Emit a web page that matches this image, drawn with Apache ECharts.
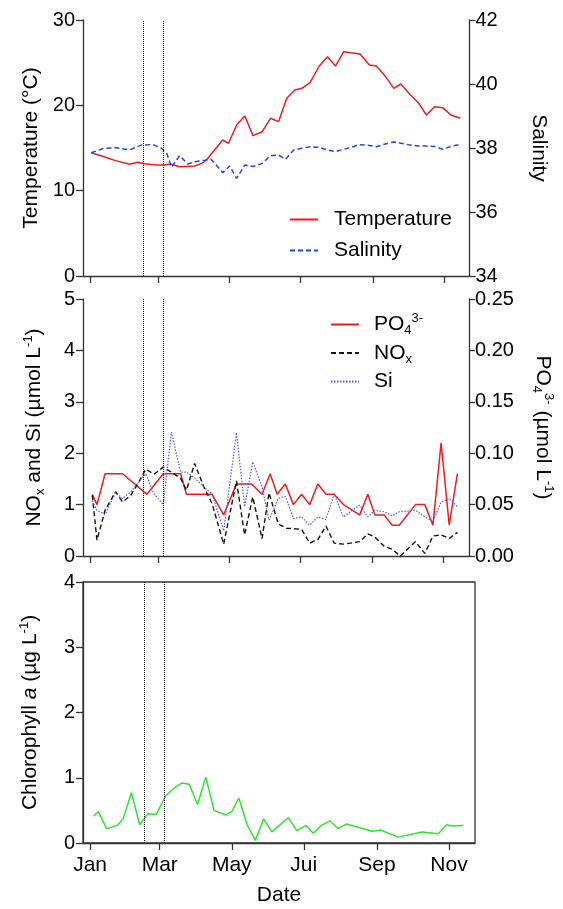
<!DOCTYPE html>
<html>
<head>
<meta charset="utf-8">
<script src="https://cdn.jsdelivr.net/npm/echarts@6/dist/echarts.min.js"></script>
<style>html,body{margin:0;padding:0;background:#fff;}#c{width:563px;height:909px;}</style>
</head>
<body>
<div id="c"></div>
<script>
// ---- data (x = day of year, Jan 1 = 0) ----
const monthDays = [0, 59, 120, 181, 243, 304];
const monthLabels = ['Jan', 'Mar', 'May', 'Jui', 'Sep', 'Nov'];
const periodDays = [46, 63];

const tempDays = [1, 12, 22, 34, 41, 47, 57, 64, 69, 77, 90, 96, 100, 107, 114, 119, 126, 133, 140, 148, 155, 162, 169, 176, 182, 189, 197, 204, 211, 218, 224, 232, 240, 246, 254, 261, 267, 274, 282, 289, 296, 303, 310, 318];
const temperature = [14.45, 13.98, 13.52, 13.09, 13.32, 13.16, 13.01, 13.01, 13.13, 12.81, 12.89, 13.2, 13.59, 14.77, 15.94, 15.55, 17.7, 18.75, 16.45, 16.91, 18.48, 18.09, 20.82, 21.8, 21.99, 22.66, 24.61, 25.7, 24.61, 26.29, 26.17, 26.02, 24.73, 24.61, 23.36, 21.99, 22.5, 21.41, 20.31, 18.87, 19.84, 19.73, 18.87, 18.48];

const salDays = [1, 12, 22, 34, 44, 54, 61, 66, 70, 77, 84, 90, 99, 104, 114, 120, 126, 133, 140, 148, 155, 162, 168, 175, 182, 189, 197, 204, 211, 218, 224, 231, 238, 246, 253, 261, 267, 274, 282, 289, 296, 303, 310, 318];
const salinity = [37.85, 37.99, 38.01, 37.94, 38.09, 38.11, 38.0, 37.83, 37.4, 37.76, 37.5, 37.57, 37.62, 37.65, 37.23, 37.44, 37.05, 37.47, 37.42, 37.52, 37.76, 37.78, 37.65, 37.94, 37.99, 38.04, 38.02, 37.94, 37.89, 37.96, 38.02, 38.1, 38.09, 38.04, 38.12, 38.19, 38.15, 38.1, 38.06, 38.06, 38.05, 37.96, 38.05, 38.11];

const po4Days = [2, 6, 13, 28, 49, 63, 78, 83, 105, 115, 126, 139, 148, 155, 161, 168, 175, 182, 189, 196, 203, 210, 218, 232, 239, 245, 253, 260, 266, 280, 288, 295, 302, 309, 316];
const po4 = [0.06, 0.05, 0.08, 0.08, 0.06, 0.08, 0.08, 0.06, 0.06, 0.04, 0.07, 0.07, 0.06, 0.08, 0.06, 0.07, 0.05, 0.06, 0.05, 0.07, 0.06, 0.06, 0.05, 0.04, 0.06, 0.04, 0.04, 0.03, 0.03, 0.05, 0.05, 0.03, 0.11, 0.03, 0.08];

const noxDays = [2, 6, 13, 22, 28, 35, 42, 48, 55, 63, 70, 78, 83, 90, 98, 105, 115, 126, 133, 140, 148, 154, 162, 169, 182, 189, 196, 203, 210, 218, 232, 239, 245, 253, 260, 267, 280, 288, 295, 302, 309, 316];
const nox = [1.18, 0.31, 0.89, 1.25, 1.05, 1.18, 1.44, 1.69, 1.59, 1.73, 1.63, 1.51, 1.28, 1.8, 1.34, 1.02, 0.23, 1.46, 0.41, 1.15, 0.34, 1.23, 0.62, 0.54, 0.52, 0.25, 0.32, 0.58, 0.25, 0.23, 0.28, 0.43, 0.37, 0.19, 0.13, 0.0, 0.28, 0.05, 0.39, 0.41, 0.34, 0.46];

const siDays = [2, 6, 13, 22, 28, 35, 48, 55, 63, 70, 78, 83, 90, 98, 105, 115, 126, 133, 140, 148, 154, 162, 168, 175, 182, 189, 196, 203, 210, 218, 232, 239, 245, 253, 260, 266, 280, 288, 295, 302, 309, 316];
const silicate = [1.07, 0.89, 0.81, 1.23, 1.12, 1.25, 1.6, 1.21, 1.0, 2.41, 1.63, 1.63, 1.52, 1.34, 1.21, 0.49, 2.4, 0.96, 1.83, 1.34, 0.7, 1.12, 1.16, 0.73, 0.76, 0.6, 0.76, 0.71, 1.21, 0.76, 0.99, 0.76, 0.89, 0.86, 0.78, 0.86, 0.89, 0.76, 0.67, 1.05, 1.12, 0.96];

const chlDays = [3, 7, 14, 23, 28, 35, 42, 49, 56, 64, 71, 78, 84, 91, 98, 105, 115, 120, 126, 133, 140, 147, 154, 168, 175, 183, 189, 196, 203, 210, 217, 239, 246, 261, 281, 295, 302, 307, 316];
const chlorophyll = [0.41, 0.48, 0.22, 0.27, 0.37, 0.77, 0.28, 0.45, 0.44, 0.72, 0.84, 0.92, 0.9, 0.59, 1.01, 0.5, 0.43, 0.48, 0.69, 0.28, 0.04, 0.37, 0.17, 0.39, 0.19, 0.27, 0.15, 0.27, 0.34, 0.22, 0.29, 0.18, 0.2, 0.09, 0.17, 0.14, 0.28, 0.26, 0.27];

// ---- helpers ----
const FONT = '"Liberation Sans", Arial, Helvetica, sans-serif';
const AX = '#333';
const pairs = (xs, ys) => xs.map((x, i) => [x, ys[i]]);
const richStyles = {
  n: { fontSize: 21, fontFamily: FONT, color: '#000', lineHeight: 25 },
  i: { fontSize: 21, fontFamily: FONT, color: '#000', lineHeight: 25, fontStyle: 'italic' },
  sub: { fontSize: 13, fontFamily: FONT, color: '#000', lineHeight: 13, verticalAlign: 'bottom' },
  sup: { fontSize: 13, fontFamily: FONT, color: '#000', lineHeight: 13, verticalAlign: 'top' }
};
const legRich = {
  n: { fontSize: 21, fontFamily: FONT, color: '#000', lineHeight: 25 },
  sub: { fontSize: 13, fontFamily: FONT, color: '#000', lineHeight: 13, verticalAlign: 'bottom' },
  sup: { fontSize: 13, fontFamily: FONT, color: '#000', lineHeight: 13, verticalAlign: 'top' }
};

function xAxis(gi, showLabels) {
  return {
    type: 'value', gridIndex: gi, min: -6, max: 326,
    name: showLabels ? 'Date' : '', nameLocation: 'middle', nameGap: 42,
    nameTextStyle: { fontSize: 21, fontFamily: FONT, color: '#000' },
    axisLine: { onZero: false, lineStyle: { color: AX, width: 1.3 } },
    axisTick: { show: true, length: 7, customValues: monthDays, lineStyle: { color: AX, width: 1.3 } },
    axisLabel: {
      show: showLabels, customValues: monthDays, margin: 12,
      fontSize: 21, fontFamily: FONT, color: '#000',
      formatter: v => monthLabels[monthDays.indexOf(v)] || ''
    },
    splitLine: { show: false }
  };
}
function yAxis(gi, pos, min, max, interval, name, gap, rot, digits) {
  return {
    type: 'value', gridIndex: gi, position: pos, min, max, interval,
    name, nameLocation: 'middle', nameGap: gap, nameRotate: rot,
    nameTextStyle: { rich: richStyles, fontSize: 21, fontFamily: FONT, color: '#000' },
    axisLine: { show: true, onZero: false, lineStyle: { color: AX, width: 1.3 } },
    axisTick: { show: true, length: pos === 'left' ? 7 : 6, lineStyle: { color: AX, width: 1.3 } },
    axisLabel: {
      margin: pos === 'left' ? 8 : 6, fontSize: 20, fontFamily: FONT, color: '#000',
      formatter: v => digits ? v.toFixed(digits) : String(v)
    },
    splitLine: { show: false }
  };
}
const periodLines = {
  symbol: 'none', silent: true, animation: false,
  label: { show: false },
  lineStyle: { type: 'dotted', color: '#000', width: 1 },
  data: periodDays.map(d => ({ xAxis: d }))
};

const chart = echarts.init(document.getElementById('c'), null, { renderer: 'canvas' });
chart.setOption({
  animation: false,
  backgroundColor: '#fff',
  textStyle: { fontFamily: FONT },
  grid: [
    { left: 83, top: 20, width: 386.5, height: 256 },
    { left: 83, top: 299, width: 387, height: 257 },
    { left: 83, top: 582, width: 392, height: 261, show: true, borderColor: AX, borderWidth: 1.3, backgroundColor: 'transparent' }
  ],
  xAxis: [xAxis(0, false), xAxis(1, false), xAxis(2, true)],
  yAxis: [
    yAxis(0, 'left', 0, 30, 10, '{n|Temperature (°C)}', 39, 90),
    yAxis(0, 'right', 34, 42, 2, '{n|Salinity}', 57, -90),
    yAxis(1, 'left', 0, 5, 1, '{n|NO}{sub|x}{n| and Si (µmol L}{sup|-1}{n|)}', 36, 90),
    yAxis(1, 'right', 0, 0.25, 0.05, '{n|PO}{sub|4}{sup|3-}{n| (µmol L}{sup|-1}{n|)}', 61, -90, 2),
    yAxis(2, 'left', 0, 4, 1, '{n|Chlorophyll }{i|a}{n| (µg L}{sup|-1}{n|)}', 40, 90)
  ],
  legend: [
    {
      data: ['Temperature', 'Salinity'], orient: 'vertical', left: 289, top: 209, padding: 0,
      itemWidth: 28, itemHeight: 10, itemGap: 10,
      itemStyle: { opacity: 0 },
      textStyle: { fontSize: 21, fontFamily: FONT, color: '#000', padding: [0, 0, 0, 11] }
    },
    {
      data: ['PO4', 'NOx', 'Si'], orient: 'vertical', left: 330, top: 312, padding: 0,
      itemWidth: 28, itemHeight: 10, itemGap: 5.5,
      itemStyle: { opacity: 0 },
      formatter: n => n === 'PO4' ? '{n|PO}{sub|4}{sup|3-}' : n === 'NOx' ? '{n|NO}{sub|x}' : '{n|Si}',
      textStyle: { rich: legRich, fontSize: 21, fontFamily: FONT, color: '#000', padding: [0, 0, 0, 10] }
    }
  ],
  series: [
    {
      name: 'Temperature', type: 'line', xAxisIndex: 0, yAxisIndex: 0,
      data: pairs(tempDays, temperature), showSymbol: false, symbol: 'none',
      lineStyle: { color: '#ee1c1c', width: 1.5 }, itemStyle: { color: '#ee1c1c' },
      markLine: periodLines
    },
    {
      name: 'Salinity', type: 'line', xAxisIndex: 0, yAxisIndex: 1,
      data: pairs(salDays, salinity), showSymbol: false, symbol: 'none',
      lineStyle: { color: '#2347e0', width: 1.5, type: [5, 3] }, itemStyle: { color: '#2347e0' }
    },
    {
      name: 'PO4', type: 'line', xAxisIndex: 1, yAxisIndex: 3,
      data: pairs(po4Days, po4), showSymbol: false, symbol: 'none',
      lineStyle: { color: '#ee1c1c', width: 1.5 }, itemStyle: { color: '#ee1c1c' },
      markLine: periodLines
    },
    {
      name: 'NOx', type: 'line', xAxisIndex: 1, yAxisIndex: 2,
      data: pairs(noxDays, nox), showSymbol: false, symbol: 'none',
      lineStyle: { color: '#111', width: 1.4, type: [5, 3] }, itemStyle: { color: '#111' }
    },
    {
      name: 'Si', type: 'line', xAxisIndex: 1, yAxisIndex: 2,
      data: pairs(siDays, silicate), showSymbol: false, symbol: 'none',
      lineStyle: { color: '#4a5de6', width: 1.2, type: [1.5, 1.5] }, itemStyle: { color: '#4a5de6' }
    },
    {
      name: 'Chlorophyll a', type: 'line', xAxisIndex: 2, yAxisIndex: 4,
      data: pairs(chlDays, chlorophyll), showSymbol: false, symbol: 'none',
      lineStyle: { color: '#2ee62e', width: 1.5 }, itemStyle: { color: '#2ee62e' },
      markLine: periodLines
    }
  ]
});
</script>
</body>
</html>
